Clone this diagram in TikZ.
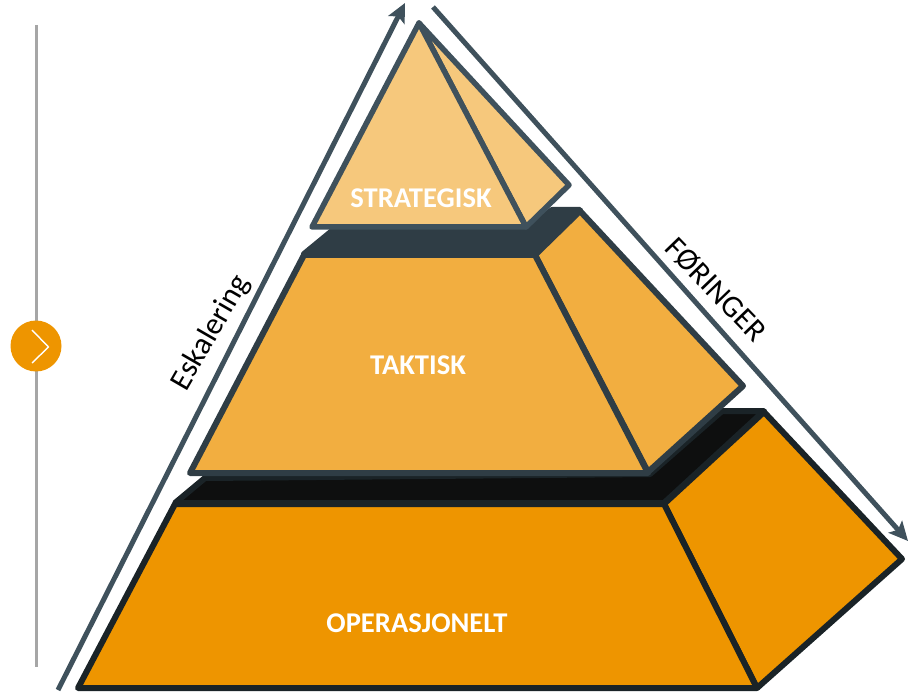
\documentclass[tikz,border=0pt]{standalone}
\usepackage{fontspec}
\setmainfont{Carlito}
\usetikzlibrary{arrows.meta}
\definecolor{topfill}{HTML}{F6C87C}
\definecolor{midfill}{HTML}{F2AE40}
\definecolor{lowfill}{HTML}{EE9500}
\definecolor{topedge}{HTML}{3F515C}
\definecolor{midedge}{HTML}{2F3D45}
\definecolor{lowedge}{HTML}{1A2327}
\definecolor{lowband}{HTML}{0E0F0F}
\definecolor{sideline}{HTML}{A6A6A6}
\tikzset{
  face/.style={line width=6pt,line join=round},
  levellabel/.style={font=\bfseries\fontsize{28.6}{28.6}\selectfont,text=white,inner sep=0pt},
  sidelabel/.style={font=\fontsize{31}{31}\selectfont,inner sep=0pt},
  sidearrow/.style={draw=topedge,line width=5pt,-{Stealth[length=19pt,width=18pt,inset=4pt]}},
}
\begin{document}
\begin{tikzpicture}[x=1pt,y=-1pt]
  \useasboundingbox (0,0) rectangle (912,692);
  % side marker
  \coordinate (linetop) at (36.5,25);
  \coordinate (linebot) at (36.5,667);
  \draw[sideline,line width=2.5pt] (linetop) -- (linebot);
  \node[circle,fill=lowfill,minimum size=51pt,inner sep=0pt] (marker) at (36,346) {};
  \draw[white,line width=1.4pt] (32,330) -- (48.5,347) -- (32,363);
  % lower level
  \draw[face,draw=lowedge,fill=lowband] (175,503) -- (205,478) -- (650,474) -- (722,411) -- (764,411) -- (664,503) -- cycle;
  \draw[face,draw=lowedge,fill=lowfill] (664,504) -- (764,412) -- (902,559) -- (757,688) -- cycle;
  \draw[face,draw=lowedge,fill=lowfill] (175,504) -- (664,504) -- (757,688) -- (78,688) -- cycle;
  % middle level
  \draw[face,draw=midedge,fill=midedge] (304,254) -- (332,231) -- (526,229) -- (552,210) -- (580,210) -- (535,254) -- cycle;
  \draw[face,draw=midedge,fill=midfill] (535,255) -- (580,211) -- (743,386) -- (648,472) -- cycle;
  \draw[face,draw=midedge,fill=midfill] (304,255) -- (535,255) -- (648,473) -- (190,473) -- cycle;
  % top level
  \draw[face,line width=5.5pt,draw=topedge,fill=topfill] (419,23) -- (569,185) -- (526,227) -- cycle;
  \draw[face,line width=5.5pt,draw=topedge,fill=topfill] (419,23) -- (526,227) -- (312,227) -- cycle;
  % arrows
  \coordinate (escfrom) at (58,690);
  \coordinate (escto) at (405,3);
  \coordinate (forfrom) at (433,7);
  \coordinate (forto) at (908,541);
  \draw[sidearrow] (escfrom) -- (escto);
  \draw[sidearrow] (forfrom) -- (forto);
  % labels
  \node[levellabel] (strategisk) at (421,198) {STRATEGISK};
  \node[levellabel] (taktisk) at (418,365) {TAKTISK};
  \node[levellabel] (operasjonelt) at (417,623) {OPERASJONELT};
  \node[sidelabel,rotate=60] (eskalering) at (211,333) {Eskalering};
  \node[sidelabel,rotate=-46] (foringer) at (716,290) {FØRINGER};
\end{tikzpicture}
\end{document}
